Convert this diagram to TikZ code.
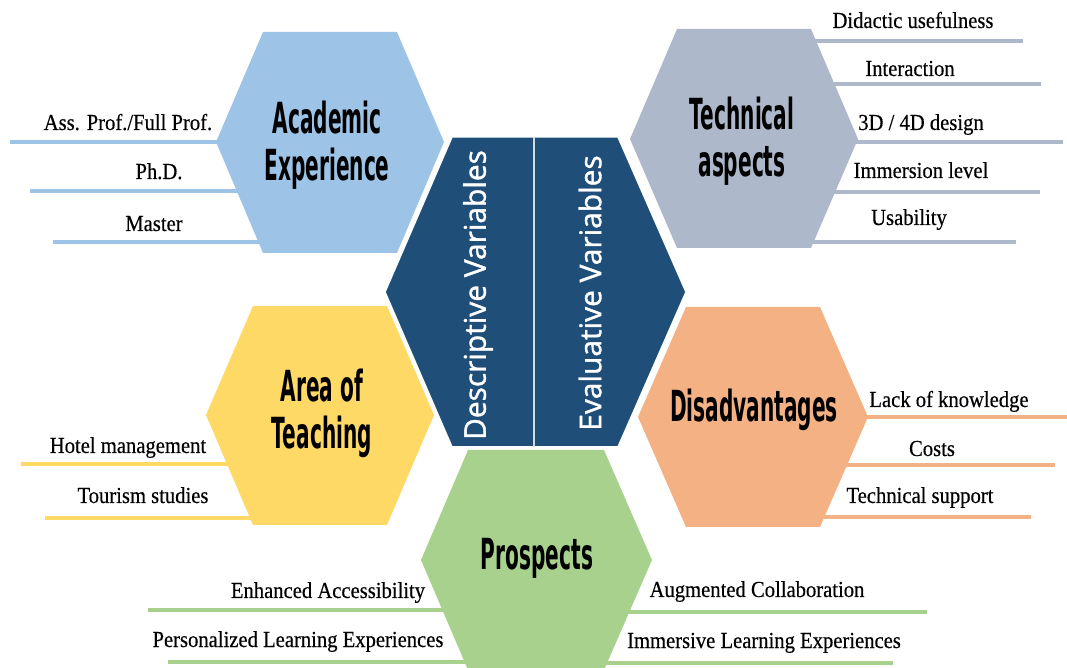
\documentclass[tikz,border=0pt]{standalone}
\usepackage{fontspec}
\usepackage{tikz}
\usetikzlibrary{backgrounds}

\newfontfamily\titlefont[FakeStretch=0.47]{DejaVu Sans}
\newfontfamily\labelfont[FakeStretch=0.9,FakeBold=0.4]{Liberation Serif}
\newfontfamily\varfont[FakeBold=1.2]{Open Sans}

\definecolor{acadblue}{HTML}{9DC3E6}
\definecolor{techgray}{HTML}{ADB9CA}
\definecolor{areayellow}{HTML}{FFD966}
\definecolor{disorange}{HTML}{F4B183}
\definecolor{prosgreen}{HTML}{A9D18E}
\definecolor{vardark}{HTML}{1F4E79}

\tikzset{
  title/.style={font=\titlefont\bfseries\fontsize{43}{47}\selectfont,align=center,text=black,inner sep=0pt},
  item/.style={font=\labelfont\fontsize{23}{23}\selectfont,anchor=base,inner sep=0pt,text=black},
  varname/.style={font=\varfont\fontsize{30}{30}\selectfont,text=white,rotate=90,inner sep=0pt},
  bar/.style={line width=3.5bp},
}

\begin{document}
\begin{tikzpicture}[>=latex,line join=bevel,]
\useasboundingbox (0bp,0bp) rectangle (1067bp,668bp);
%%
\fill [acadblue] (263bp,636bp) -- (397bp,636bp) -- (444bp,526bp) -- (397bp,415bp) -- (263bp,415bp) -- (216bp,526bp) -- cycle;
\fill [techgray] (677bp,639bp) -- (811bp,639bp) -- (858bp,529bp) -- (811bp,420bp) -- (677bp,420bp) -- (630bp,529bp) -- cycle;
\fill [areayellow] (253bp,362bp) -- (387bp,362bp) -- (434bp,253bp) -- (387bp,143bp) -- (253bp,143bp) -- (206bp,253bp) -- cycle;
\fill [disorange] (686bp,361bp) -- (820bp,361bp) -- (868bp,251bp) -- (820bp,141bp) -- (686bp,141bp) -- (638bp,251bp) -- cycle;
\fill [prosgreen] (468bp,218bp) -- (604bp,218bp) -- (652bp,108bp) -- (604bp,-2bp) -- (468bp,-2bp) -- (421bp,108bp) -- cycle;
\filldraw [fill=vardark,draw=white,line width=1.5bp] (452bp,531bp) -- (618bp,531bp) -- (686bp,376bp) -- (618bp,221bp) -- (452bp,221bp) -- (385bp,376bp) -- cycle;
\draw [white!80!vardark,line width=1.2bp] (534bp,531bp) -- (534bp,221bp);
%
  \node (ae) at (327bp,523bp) [title] {Academic\\Experience};
  \node (ta) at (742bp,527bp) [title] {Technical\\aspects};
  \node (at) at (322bp,255bp) [title] {Area of\\Teaching};
  \node (dis) at (754bp,258bp) [title] {Disadvantages};
  \node (pr) at (537bp,110bp) [title] {Prospects};
  \node (dv) at (478bp,373bp) [varname] {Descriptive Variables};
  \node (ev) at (590bp,375bp) [varname] {Evaluative Variables};
%
  \node (ae1t) at (128bp,538bp) [item] {Ass. Prof./Full Prof.};
  \node (ae2t) at (159bp,489bp) [item] {Ph.D.};
  \node (ae3t) at (154bp,437bp) [item] {Master};
  \node (ta1t) at (913bp,640bp) [item] {Didactic usefulness};
  \node (ta2t) at (910bp,592bp) [item] {Interaction};
  \node (ta3t) at (921bp,538bp) [item] {3D / 4D design};
  \node (ta4t) at (921bp,490bp) [item] {Immersion level};
  \node (ta5t) at (909bp,443bp) [item] {Usability};
  \node (at1t) at (128bp,215bp) [item] {Hotel management};
  \node (at2t) at (143bp,165bp) [item] {Tourism studies};
  \node (dis1t) at (949bp,261bp) [item] {Lack of knowledge};
  \node (dis2t) at (932bp,212bp) [item] {Costs};
  \node (dis3t) at (920bp,165bp) [item] {Technical support};
  \node (pr1t) at (328bp,70bp) [item] {Enhanced Accessibility};
  \node (pr2t) at (298bp,21bp) [item] {Personalized Learning Experiences};
  \node (pr3t) at (757bp,71bp) [item] {Augmented Collaboration};
  \node (pr4t) at (764bp,20bp) [item] {Immersive Learning Experiences};
%
  \coordinate (ae1) at (10bp,526bp);
  \coordinate (ae2) at (30bp,477bp);
  \coordinate (ae3) at (53bp,426bp);
  \coordinate (ta1) at (1023bp,627bp);
  \coordinate (ta2) at (1041bp,584bp);
  \coordinate (ta3) at (1063bp,526bp);
  \coordinate (ta4) at (1040bp,476bp);
  \coordinate (ta5) at (1016bp,426bp);
  \coordinate (at1) at (21bp,204bp);
  \coordinate (at2) at (45bp,150bp);
  \coordinate (dis1) at (1067bp,251bp);
  \coordinate (dis2) at (1055bp,203bp);
  \coordinate (dis3) at (1031bp,151bp);
  \coordinate (pr1) at (148bp,58bp);
  \coordinate (pr2) at (168bp,6bp);
  \coordinate (pr3) at (927bp,56bp);
  \coordinate (pr4) at (893bp,5bp);
%
\begin{scope}[on background layer]
  \draw [bar,acadblue] (ae1) -- (ae1 -| ae);
  \draw [bar,acadblue] (ae2) -- (ae2 -| ae);
  \draw [bar,acadblue] (ae3) -- (ae3 -| ae);
  \draw [bar,techgray] (ta1) -- (ta1 -| ta);
  \draw [bar,techgray] (ta2) -- (ta2 -| ta);
  \draw [bar,techgray] (ta3) -- (ta3 -| ta);
  \draw [bar,techgray] (ta4) -- (ta4 -| ta);
  \draw [bar,techgray] (ta5) -- (ta5 -| ta);
  \draw [bar,areayellow] (at1) -- (at1 -| at);
  \draw [bar,areayellow] (at2) -- (at2 -| at);
  \draw [bar,disorange] (dis1) -- (dis1 -| dis);
  \draw [bar,disorange] (dis2) -- (dis2 -| dis);
  \draw [bar,disorange] (dis3) -- (dis3 -| dis);
  \draw [bar,prosgreen] (pr1) -- (pr1 -| pr);
  \draw [bar,prosgreen] (pr2) -- (pr2 -| pr);
  \draw [bar,prosgreen] (pr3) -- (pr3 -| pr);
  \draw [bar,prosgreen] (pr4) -- (pr4 -| pr);
\end{scope}
%
\end{tikzpicture}
\end{document}
